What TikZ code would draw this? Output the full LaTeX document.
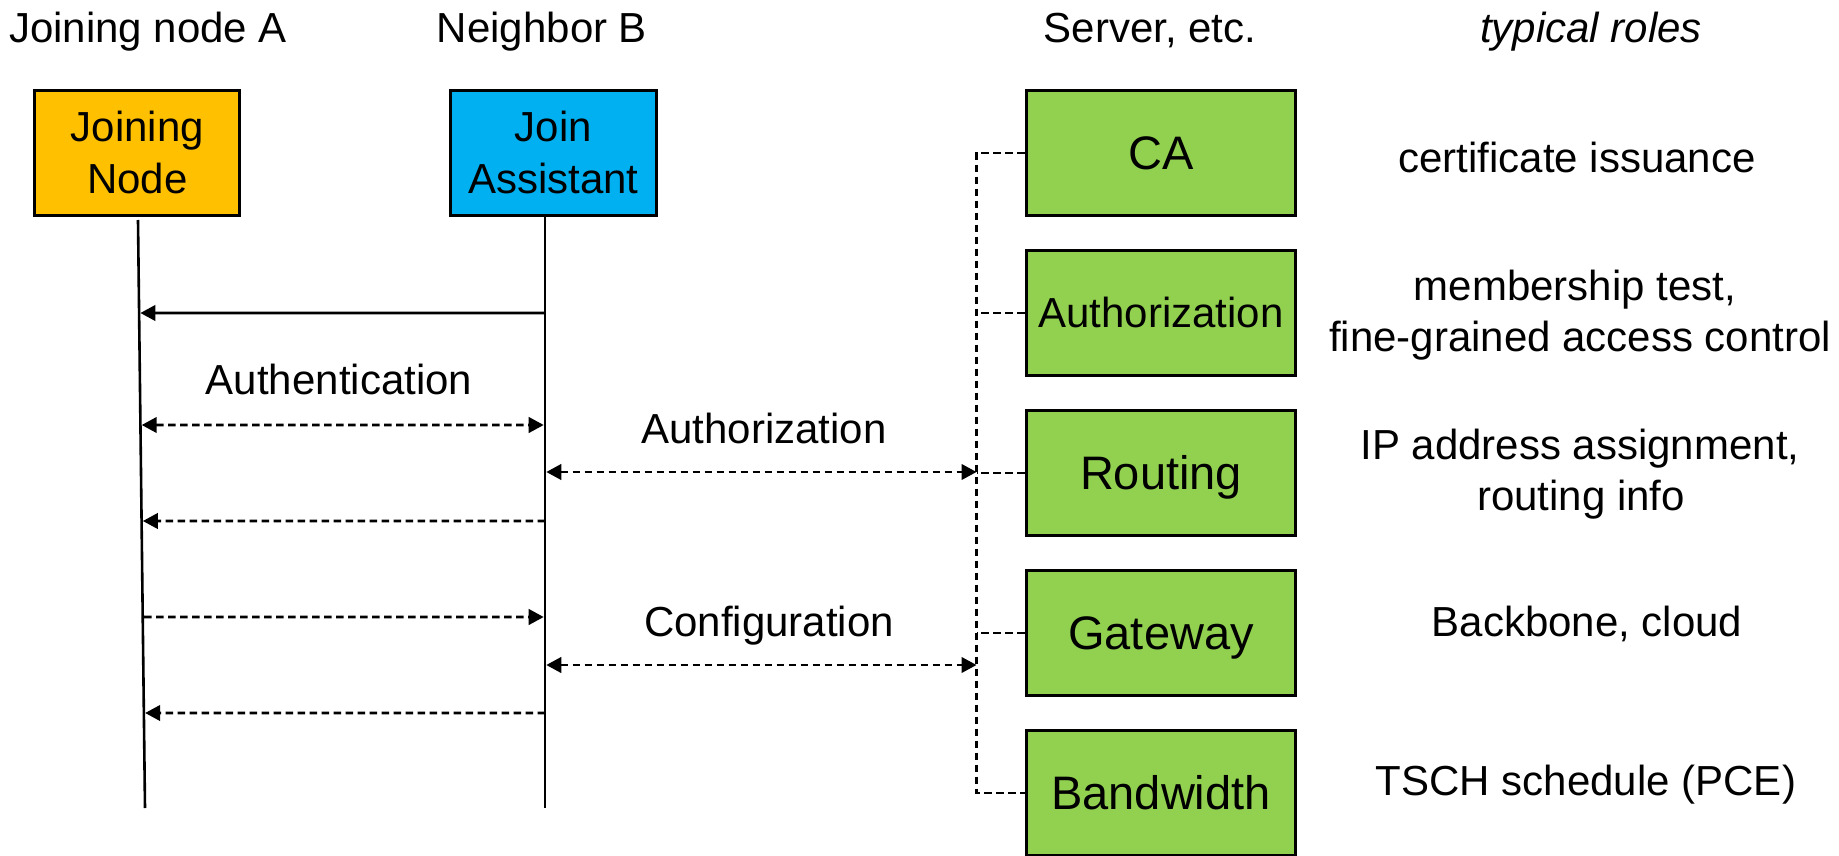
\documentclass[tikz,border=0pt]{standalone}
\usepackage{fontspec}
\setmainfont{Liberation Sans}
\usetikzlibrary{arrows.meta,calc}
\definecolor{jnorange}{HTML}{FFC000}
\definecolor{jablue}{HTML}{00B0F0}
\definecolor{srvgreen}{HTML}{92D050}
\begin{document}
\begin{tikzpicture}[x=1pt,y=-1pt,
  lbl/.style={font=\fontsize{42}{52}\selectfont, inner sep=0pt, anchor=base},
  box/.style={draw=black, line width=2.6pt, inner sep=0pt, align=center,
    font=\fontsize{42}{52}\selectfont, text height=38pt, text depth=8.9pt},
  twoline/.style={box, minimum width=205pt, minimum height=125.5pt,
    text height=90pt, text depth=8.9pt},
  srv/.style={box, fill=srvgreen, minimum width=269.5pt, minimum height=125.5pt,
    font=\fontsize{47}{52}\selectfont, text height=42.5pt, text depth=10pt},
  life/.style={line width=2.6pt},
  tipT/.tip={Triangle[length=15pt,width=15.5pt]},
  msg/.style={line width=2.6pt, -tipT},
  dmsg/.style={msg, dash pattern=on 7.5pt off 4.5pt},
  bidir/.style={line width=2.6pt, dash pattern=on 7.5pt off 4.5pt, tipT-tipT},
  busline/.style={line width=2.2pt, dash pattern=on 7.5pt off 4.5pt}]
\path[use as bounding box] (0,0) rectangle (1839,856);
\clip (0,0) rectangle (1839,856);

% column headers
\node[lbl] (hA) at (148,43) {Joining node A};
\node[lbl] (hB) at (542,43) {Neighbor B};
\node[lbl] (hS) at (1150,43) {Server, etc.};
\node[lbl, font=\fontsize{42}{52}\selectfont\itshape] (hR) at (1591,43) {typical roles};

% participants
\node[twoline, fill=jnorange] (jn) at (137.25,153) {Joining\\Node};
\node[twoline, fill=jablue, minimum width=206pt] (ja) at (553.3,153) {Join\\Assistant};

% servers
\node[srv] (ca) at (1161,153) {CA};
\node[srv, font=\fontsize{42}{52}\selectfont, text height=38pt, text depth=8.9pt] (au) at (1161,313) {Authorization};
\node[srv] (ro) at (1161,473) {Routing};
\node[srv] (gw) at (1161,633) {Gateway};
\node[srv] (bw) at (1161,793) {Bandwidth};

% lifelines
\coordinate (jt) at (138,220);
\coordinate (jb) at (145,808);
\coordinate (jab) at (545,808);
\draw[life] (jt) -- (jb);
\draw[life] (ja.south -| jab) -- (jab);

% bus
\coordinate (busx) at (976.5,0);
\draw[busline] (ca.west) -| (busx |- bw.west) -- (bw.west);
\draw[busline] (au.west) -- (au.west -| busx);
\draw[busline] (ro.west) -- (ro.west -| busx);
\draw[busline] (gw.west) -- (gw.west -| busx);

% message end points
\coordinate (a1) at ($(jt)!{(313-220)/588}!(jb)+(1.3,0)$);
\coordinate (a2) at ($(jt)!{(425-220)/588}!(jb)+(1.3,0)$);
\coordinate (a4) at ($(jt)!{(521-220)/588}!(jb)+(1.3,0)$);
\coordinate (a5) at ($(jt)!{(617-220)/588}!(jb)+(1.3,0)$);
\coordinate (a7) at ($(jt)!{(713-220)/588}!(jb)+(1.3,0)$);
\coordinate (b1) at (545,313);
\coordinate (b2) at (543.7,425);
\coordinate (b3) at (546.3,472);
\coordinate (b4) at (545,521);
\coordinate (b5) at (543.7,617);
\coordinate (b6) at (546.3,665);
\coordinate (b7) at (545,713);
\coordinate (c3) at (busx |- b3);
\coordinate (c6) at (busx |- b6);

% messages
\draw[msg] (b1) -- (a1);
\draw[bidir] (a2) -- (b2);
\draw[bidir] (b3) -- (c3);
\draw[dmsg] (b4) -- (a4);
\draw[dmsg] (a5) -- (b5);
\draw[bidir] (b6) -- (c6);
\draw[dmsg] (b7) -- (a7);

% message labels
\node[lbl] (lAuthn) at (339,394) {Authentication};
\node[lbl] (lAuthz) at (764,443) {Authorization};
\node[lbl] (lConf) at (769,636) {Configuration};

% typical roles
\node[lbl] (r1) at (1577,172) {certificate issuance};
\node[lbl] (r2a) at (1575,300) {membership test,};
\node[lbl] (r2b) at (1580,351) {fine-grained access control};
\node[lbl] (r3a) at (1580,459) {IP address assignment,};
\node[lbl] (r3b) at (1581,510) {routing info};
\node[lbl] (r4) at (1587,636) {Backbone, cloud};
\node[lbl] (r5) at (1586,795) {TSCH schedule (PCE)};
\end{tikzpicture}
\end{document}
